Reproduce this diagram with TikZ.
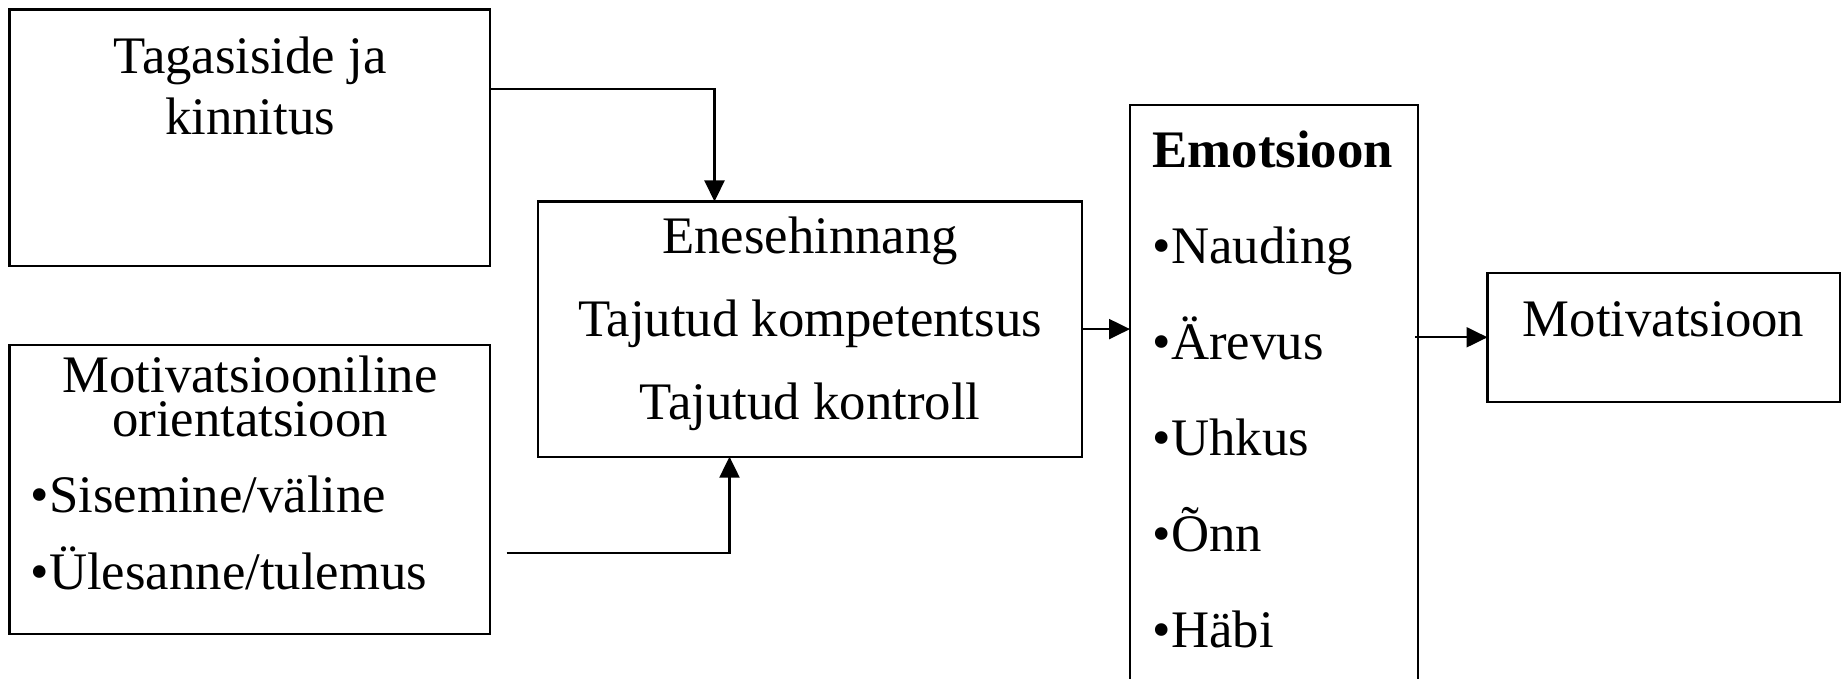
\documentclass[tikz,border=0pt]{standalone}
\usepackage{fontspec}
\setmainfont{Liberation Serif}
\usetikzlibrary{arrows.meta}

\tikzset{
  box/.style={draw, line width=0.6pt, inner sep=0pt, outer sep=0pt, anchor=north west},
  txt/.style={font=\fontsize{15}{17}\selectfont, inner sep=0pt, anchor=base},
  txtl/.style={txt, anchor=base west},
  link/.style={line width=0.6pt, -{Triangle[length=2.1mm,width=2mm]}}
}

\begin{document}
\begin{tikzpicture}[x=0.01cm, y=-0.01cm]
  \useasboundingbox (0,0) rectangle (1843,678);
  \clip (0,0) rectangle (1843,678);
  % boxes
  \node[box, minimum width=4.805cm, minimum height=2.56cm] (tagasi) at (9.5,9.5) {};
  \node[box, minimum width=4.805cm, minimum height=2.885cm] (orient) at (9.5,345) {};
  \node[box, minimum width=5.44cm, minimum height=2.55cm] (enese) at (538,201.5) {};
  \node[box, minimum width=2.88cm, minimum height=6cm] (emots) at (1130,105) {};
  \node[box, minimum width=3.52cm, minimum height=1.285cm] (motiv) at (1487.5,273) {};
  % texts
  \node[txt] (tag1) at (250,73) {Tagasiside ja};
  \node[txt] (tag2) at (250,134) {kinnitus};
  \node[txt] (ori1) at (250,392) {Motivatsiooniline};
  \node[txt] (ori2) at (250,436) {orientatsioon};
  \node[txtl] (ori3) at (30,512) {•Sisemine/väline};
  \node[txtl] (ori4) at (30,589) {•Ülesanne/tulemus};
  \foreach \s [count=\i] in {Enesehinnang, Tajutud kompetentsus, Tajutud kontroll}
    \node[txt] (ene\i) at (810,170+83*\i) {\s};
  \node[txtl, font=\fontsize{15}{17}\selectfont\bfseries] (emo0) at (1152,167) {Emotsioon};
  \foreach \s [count=\i] in {Nauding, Ärevus, Uhkus, Õnn, Häbi}
    \node[txtl] (emo\i) at (1152,167+96*\i) {•\s};
  \node[txt] (mot1) at (1663.5,336) {Motivatsioon};
  % connectors
  \coordinate (fb) at (714.5,89);
  \draw[link] (tagasi.east |- fb) -| (enese.north -| fb);
  \coordinate (ostart) at (506.5,553);
  \coordinate (oturn) at (729.5,553);
  \draw[link] (ostart) -- (oturn) -- (enese.south -| oturn);
  \draw[link] (enese.east) -- (emots.west |- enese.east);
  \draw[link] ([xshift=-0.03cm]emots.east |- motiv.west) -- (motiv.west);
\end{tikzpicture}
\end{document}
